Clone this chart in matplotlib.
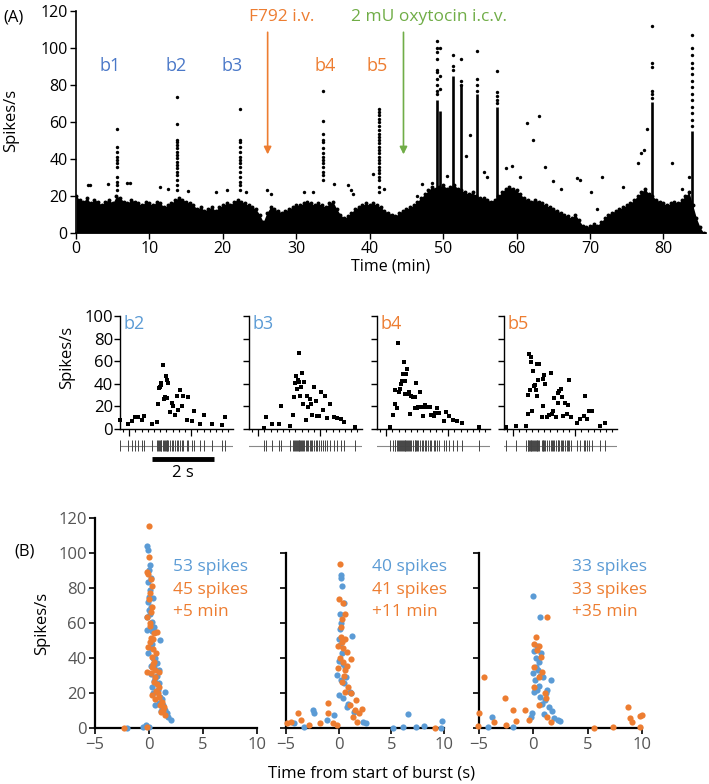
import numpy as np
import matplotlib
matplotlib.use('Agg')
import matplotlib.pyplot as plt

plt.rcParams['font.family'] = ['Open Sans', 'DejaVu Sans']

W, H = 709, 784
BLUE = '#5b9bd5'
DBLUE = '#4a78c8'
ORANGE = '#ed7d31'
GREEN = '#70ad47'
GREY = '#555555'

# ---------------- panel A: firing rate over the whole recording ----------------
# upper edge of the dense cloud of points, one value every 0.5 min
env_rate = [20, 18, 17, 19, 16, 18, 17, 15, 17, 18, 16, 20, 19, 17, 16, 18, 17, 16, 15, 17, 16,
            15, 17, 16, 14, 15, 16, 18, 19, 18, 17, 16, 15, 13, 14, 12, 13, 14, 12, 14, 15,
            16, 15, 17, 18, 17, 16, 15, 14, 13, 10, 6, 11, 14, 13, 12, 11, 12, 13, 14, 15,
            15, 16, 17, 16, 15, 16, 15, 14, 16, 17, 13, 10, 8, 9, 11, 13, 14, 15, 16, 15,
            16, 15, 14, 12, 11, 10, 9, 11, 12, 13, 14, 15, 17, 19, 21, 23, 25, 24, 25, 26,
            24, 25, 26, 24, 23, 22, 21, 22, 20, 19, 19, 18, 17, 18, 20, 22, 24, 25, 24, 23,
            21, 19, 18, 17, 18, 17, 16, 15, 14, 13, 12, 11, 10, 9, 8, 10, 7, 4, 3, 4,
            5, 4, 6, 8, 10, 11, 12, 13, 14, 15, 16, 18, 20, 22, 24, 21, 20, 18, 17, 16,
            15, 16, 17, 16, 18, 20, 22, 15, 8, 3, 0]
env_time = np.arange(len(env_rate)) * 0.5

# isolated points above the cloud
out_time = [1.6, 1.9, 4.4, 6.9, 7.4, 11.4, 12.5, 15.2, 19.0, 20.5, 23.2, 26.0, 26.5, 31.0,
            32.3, 35.1, 37.0, 37.4, 37.7, 40.5, 42.0, 46.5, 47.1, 48.5, 50.5, 53.1, 53.7,
            55.5, 56.0, 58.5, 59.4, 60.5, 61.4, 62.2, 63.0, 63.9, 65.0, 66.0, 68.2, 68.7,
            70.2, 70.9, 71.6, 74.5, 76.5, 76.9, 77.3, 77.7, 81.2, 82.5, 83.5]
out_rate = [26, 25.8, 26.5, 27, 27, 25, 24, 22.5, 22, 23, 22, 23.3, 21, 22,
            22, 26.5, 25.8, 23, 21, 32, 24, 20, 26.5, 27, 31, 41.6, 52.8,
            33, 30, 35, 36.2, 30, 59.5, 50.5, 63, 35.8, 28, 24, 29.6, 28.7,
            22.4, 12.9, 30, 25, 38, 43, 44.8, 56.4, 37.6, 24, 30]

# bursts b1-b5 (before oxytocin): column of points
burst_time = [5.6, 13.7, 22.4, 33.7, 41.3]
burst_rates = [
    [56.4, 46.6, 43.9, 41.2, 39.4, 37.6, 35.8, 30.4, 27.8, 26, 23.3],
    [73.4, 58.8, 50.5, 49.3, 47.5, 45.7, 43.9, 42.1, 40.3, 38.5, 36.7, 34.9, 33.1, 31.3, 28.7, 26, 23],
    [67.2, 50.5, 49.3, 46.6, 43.9, 41.2, 39.4, 37.6, 35.8, 33, 30.4, 27.8, 26, 23],
    [77, 60.5, 53.7, 50.1, 49.3, 45.7, 43, 41.2, 39.4, 37.6, 35.8, 33, 31.3, 28.7],
    [67.2, 65.4, 63.6, 61.8, 60, 57.7, 55.5, 53.7, 52, 50.1, 48.4, 46.6, 44.8, 43, 41.2,
     39.4, 37.6, 35.8, 34, 32.2, 30.4, 28.7, 25, 22.4],
]

# bursts after oxytocin: solid column up to a rate, sparse points above
col_time = [49.2, 49.6, 51.3, 52.5, 54.6, 57.3, 78.5, 83.9]
col_solid = [72, 66, 85, 80, 75, 68, 71, 55]
col_rates = [
    [104, 100, 98, 94, 88, 87, 83, 80, 77, 75],
    [100, 85, 78],
    [96, 90, 88],
    [94, 82, 80],
    [98.5, 83, 80, 77],
    [87.4, 76, 74, 72, 70],
    [112, 92, 89.5, 77, 75, 73],
    [107, 100, 96, 92, 89, 86, 82, 79, 75, 72, 68, 65, 61, 58],
]

burst_lab = ['b1', 'b2', 'b3', 'b4', 'b5']
burst_lab_x = [4.6, 13.7, 21.2, 33.9, 41.0]

# ---------------- middle row: instantaneous rate inside bursts ----------------
b2_t = [0, 0.25, 0.38, 0.48, 0.59, 0.70, 0.78, 1.02, 1.18, 1.24, 1.27, 1.29, 1.32, 1.34,
        1.40, 1.42, 1.45, 1.48, 1.51, 1.53, 1.56, 1.61, 1.69, 1.72, 1.77, 1.83, 1.88, 1.94,
        1.99, 2.04, 2.15, 2.20, 2.31, 2.39, 2.58, 2.71, 2.96, 3.28, 3.39]
b2_r = [8.2, 4.4, 7.4, 10.6, 10.6, 8.2, 11.8, 4.4, 5.9, 22.4, 36.2, 37, 39, 40.6,
        56.8, 26.5, 28.2, 46.5, 27.4, 43.5, 40.6, 14.7, 22.9, 20, 12.6, 28.8, 17, 34.7,
        20, 29.4, 8.2, 28.2, 7.4, 15.6, 4.7, 12.4, 4.7, 3.2, 10.6]
b3_t = [0.48, 0.56, 0.75, 0.97, 1.02, 1.32, 1.42, 1.45, 1.48, 1.53, 1.55, 1.57, 1.61, 1.63,
        1.66, 1.69, 1.72, 1.75, 1.77, 1.83, 1.88, 1.91, 1.96, 2.01, 2.04, 2.10, 2.15, 2.20,
        2.26, 2.32, 2.39, 2.44, 2.53, 2.63, 2.74, 2.85, 2.96, 3.06, 3.44]
b3_r = [0.9, 10.6, 4.4, 4.4, 20, 2.4, 12.6, 28.2, 40.6, 47.1, 35.3, 43.5, 41.2, 67.6,
        28.8, 37.1, 50, 22.4, 41.2, 7.6, 28.8, 19.4, 26.5, 22.4, 12.6, 37.6, 24.4, 11.8,
        11.2, 32.4, 17.1, 28.8, 9.7, 22.4, 10.6, 9.7, 8.8, 5.9, 1.8]
b4_t = [0.43, 0.51, 0.57, 0.59, 0.65, 0.67, 0.70, 0.73, 0.76, 0.81, 0.84, 0.86, 0.89, 0.91,
        0.94, 0.97, 0.99, 1.02, 1.08, 1.11, 1.16, 1.22, 1.24, 1.27, 1.29, 1.34, 1.40, 1.45,
        1.48, 1.54, 1.58, 1.65, 1.70, 1.75, 1.83, 1.88, 1.94, 2.01, 2.15, 2.24, 2.31, 2.44,
        2.58, 2.74, 3.28]
b4_r = [1.5, 12.4, 22.1, 34.4, 18.5, 76.5, 32.4, 35.3, 39.7, 42.6, 49.1, 59.7, 42.6, 30.9,
        49.1, 52.9, 30.9, 32.4, 13.2, 29.4, 27.9, 27.9, 18.5, 40.3, 18.5, 19.1, 32.4, 19.1,
        11.8, 21.2, 19.1, 19.7, 19.1, 12.6, 11.8, 13.8, 18.5, 13.8, 6.8, 14.7, 11.8, 7.9,
        6.8, 5.6, 2.1]
b5_t = [0.06, 0.39, 0.70, 0.76, 0.78, 0.81, 0.84, 0.86, 0.88, 0.91, 0.95, 0.97, 1.00, 1.02,
        1.05, 1.08, 1.11, 1.14, 1.22, 1.25, 1.27, 1.30, 1.34, 1.40, 1.46, 1.51, 1.54, 1.57,
        1.61, 1.68, 1.73, 1.75, 1.78, 1.83, 1.86, 1.89, 1.97, 2.02, 2.08, 2.11, 2.18, 2.37,
        2.47, 2.58, 2.61, 2.69, 2.75, 2.83, 3.10, 3.26]
b5_r = [2.1, 2.6, 2.4, 12.9, 30, 66.2, 34.4, 63.8, 59.7, 15.6, 50.9, 38.2, 39.1, 34.4,
        28.8, 57.4, 43.2, 57.4, 10.9, 20.6, 44.1, 47.9, 39.7, 10.9, 12.4, 50, 13.2, 16.2,
        27.4, 10.9, 22.6, 31.5, 33.2, 35.3, 28.5, 11.8, 22.6, 13.2, 21.2, 43.2, 10.3, 5.3,
        8.8, 11.2, 29.4, 8.8, 15.6, 16.2, 2.6, 5.3]

mini_t = [b2_t, b3_t, b4_t, b5_t]
mini_r = [b2_r, b3_r, b4_r, b5_r]
mini_lab = ['b2', 'b3', 'b4', 'b5']
mini_col = [BLUE, BLUE, ORANGE, ORANGE]

# ---------------- panel B: superimposed bursts ----------------
p1_blue_t = [-2.0, -0.6, -0.3, 0.0, -0.15, -0.05, 0.05, 0.0, 0.15, -0.05, 0.05, 0.0, 0.35, -0.05,
             0.15, 0.0, -0.15, 0.25, -0.15, 0.45, 0.55, 1.05, 0.15, -0.05, 0.6, 0.75, 0.45, 0.9,
             0.15, 0.6, 0.9, 0.25, 1.5, 0.9, 1.2, 0.6, 1.5, 1.7, 1.8, 2.0, 1.2, 1.05, 0.35, 0.3,
             0.1, 0.2, 0.5, 0.8, 1.1, 0.4, 0.7, 1.3, 0.3]
p1_blue_r = [0.4, 0.8, 1.9, 0.6, 103.8, 101.5, 93, 90.3, 85.4, 83.5, 79, 75, 74, 72,
             69, 67.4, 63.6, 60.7, 56, 57.5, 55, 50.3, 45.5, 42.7, 39.8, 37, 35, 33.2,
             31, 28.5, 25.6, 23.7, 20.9, 14.2, 12.3, 13.3, 10.4, 8.5, 6.6, 4.7, 16.5, 18, 20, 55.5,
             65, 35.5, 27, 22, 9.7, 40, 30, 13.5, 48]
p1_orange_t = [0.0, -0.15, -0.05, 0.25, 0.0, 0.3, -0.15, 0.05, 0.15, 0.35, 0.75, -0.05, 0.25,
               0.65, 0.45, -0.15, 0.9, 0.15, 0.45, 0.9, 0.65, 0.9, 0.6, 1.2, 1.4, 1.1, 1.5, -2.3,
               -0.15, 0.2, 0.1, 0.4, 0.3, 0.55, 0.75, 0.3, 1.0, 0.5, 0.05, 0.2, 0.4, 0.8, 1.3,
               0.1, 0.6, 0.0]
p1_orange_r = [97.3, 88.8, 87.7, 81, 73.4, 69.3, 63.6, 58.3, 51.2, 50.7, 55, 46.5, 40.4,
               42.7, 38, 32.3, 32.3, 31.3, 26.6, 23.7, 21.4, 18, 16.5, 15.2, 12.3, 9.5, 7.6, 0,
               0.9, 66, 60, 45, 35, 29, 25, 19, 13, 54.5, 77, 85, 36.5, 20, 10.5,
               49, 33, 115]
p2_blue_t = [0.19, 0.2, 0.3, 0.5, 0.2, 0.1, 1.3, 0.05, 0.1, 0.3, 0.05, 0.4, 0.6, -0.13, 0.7,
             0.2, 0.55, 1.2, 1.1, 0.05, 0.4, -4.2, -3.3, -2.4, -2.3, -1.1, -0.4, 2.3, 2.6, 5.2,
             6.1, 6.6, 7.3, 8.1, 9.8, 9.7, 0.9, 1.5, 0.15, 0.8]
p2_blue_r = [87.3, 85.4, 81, 71.5, 59.8, 56.4, 52.6, 50.7, 47.4, 42.7, 38.5, 36.6, 34.7, 30.4,
             29.4, 27.5, 25.6, 19.9, 20.9, 19, 17.1, 3.2, 0.9, 10.4, 8.9, 4.7, 7.6, 3.8, 3.2, 0,
             1, 8.2, 0.8, 1.3, 4.2, 0, 14, 9, 65, 12]
p2_orange_t = [0.12, 0.06, 0.44, 0.6, 0.28, 0.19, 0.6, 0.28, -0.04, 0.38, 0.82, 1.2, 0.1, 0.44,
               0.76, -0.04, 0.6, 0.28, 0.9, 0.6, 1.2, -4.9, -4.5, -3.9, -3.6, -2.8, -1.8, -1.0,
               -0.5, -0.2, -1.0, 1.1, 1.6, 1.4, 1.55, 1.9, 2.2, 1.7, 9.1, 0.2, 0.5]
p2_orange_r = [93.5, 73.4, 71.5, 65, 62, 57.5, 50.7, 49.3, 46.9, 45.5, 43.6, 39.3, 39.8, 38,
               35.5, 34.2, 33.2, 26.6, 23.7, 20.9, 19.9, 3.2, 3.8, 8.9, 4.7, 1.9, 2.8, 14.6,
               3.2, 1.9, 8.5, 13.3, 16.1, 6.6, 10.4, 8.5, 10.8, 3.8, 0, 52, 30]
p3_blue_t = [0.0, 0.64, 0.7, 0.2, -0.06, 1.6, 0.5, 0.1, 0.6, 1.1, 1.4, -0.1, 1.7, -0.2, 2.3,
             2.5, -3.8, -1.9, 0.25, 0.15, 0.4, 0.9, 0.3, 0.8, 1.2, 0.5, 1.0, -4.2, 0.05, 0.6,
             1.3, 0.35, 1.9]
p3_blue_r = [75.3, 63.6, 43, 35, 31.3, 27.5, 24, 20.9, 18, 16, 12.3, 8.5, 10, 6.6, 4.7,
             4.2, 6.6, 1, 39.8, 27.5, 33, 29, 22, 14, 20, 38, 8, 0.5, 44, 30,
             22, 47, 6]
p3_orange_t = [1.3, -4.5, -2.6, -5.0, -1.9, -0.8, -3.6, -2.5, -1.6, -0.4, -5.1, 0.1, 0.5, 0.3,
               0.7, 0.05, 0.8, 0.55, 0.1, 1.1, 1.2, 0.55, 1.3, 1.6, 5.6, 7.3, 8.7, 8.9, 9.1, 9.8,
               10.0, 9.8, 0.2]
p3_orange_r = [63.2, 29.4, 17, 8.5, 10.4, 10.4, 3.8, 1.9, 4.4, 4.7, 1.3, 48, 47, 44.6,
               40.4, 35, 32.3, 29.4, 23.7, 19.9, 17, 13.3, 6.6, 3.8, 0, 0.6, 12.3, 5.7, 3.8, 1,
               7.6, 7, 52]

b_panels = [(p1_blue_t, p1_blue_r, p1_orange_t, p1_orange_r),
            (p2_blue_t, p2_blue_r, p2_orange_t, p2_orange_r),
            (p3_blue_t, p3_blue_r, p3_orange_t, p3_orange_r)]
b_text = [('53 spikes', '45 spikes', '+5 min'),
          ('40 spikes', '41 spikes', '+11 min'),
          ('33 spikes', '33 spikes', '+35 min')]


def box(left, top, width, height):
    # pixel box (from top-left) -> figure fraction rect
    return [left / W, 1 - (top + height) / H, width / W, height / H]


def ftext(x, y, s, **kw):
    fig.text(x / W, 1 - y / H, s, **kw)


fig = plt.figure(figsize=(W / 100, H / 100), dpi=100)

# ---- top panel ----
ax = fig.add_axes(box(76, 11, 630, 222))
ax.fill_between(env_time, 0, env_rate, color='black', lw=0)
ax.scatter(env_time, env_rate, s=8, color='black', lw=0)
ax.scatter(out_time, out_rate, s=6, color='black', lw=0)
for t, rr in zip(burst_time, burst_rates):
    ax.scatter([t] * len(rr), rr, s=6, color='black', lw=0)
for t, top, rr in zip(col_time, col_solid, col_rates):
    ax.vlines(t, 0, top, color='black', lw=1.9)
    ax.scatter([t] * len(rr), rr, s=6, color='black', lw=0)
ax.set_xlim(0, 85.8)
ax.set_ylim(0, 120)
ax.set_xticks(range(0, 81, 10))
ax.set_yticks(range(0, 121, 20))
for s in ['top', 'right']:
    ax.spines[s].set_visible(False)
for s in ['left', 'bottom']:
    ax.spines[s].set_linewidth(1.2)
ax.tick_params(labelsize=11.5, length=4, width=1, pad=2)
ax.set_xlabel('Time (min)', fontsize=11.5, labelpad=1)
for lab, x, i in zip(burst_lab, burst_lab_x, range(5)):
    ax.text(x, 90, lab, color=DBLUE if i < 3 else ORANGE, fontsize=13,
            ha='center', va='center')
ax.annotate('', xy=(26.1, 41), xytext=(26.1, 110),
            arrowprops=dict(arrowstyle='-|>', color=ORANGE, lw=1.2, mutation_scale=11))
ax.text(28.0, 117, 'F792 i.v.', color=ORANGE, fontsize=12.5, ha='center', va='center')
ax.annotate('', xy=(44.6, 41), xytext=(44.6, 110),
            arrowprops=dict(arrowstyle='-|>', color=GREEN, lw=1.2, mutation_scale=11))
ax.text(48.1, 117, '2 mU oxytocin i.c.v.', color=GREEN, fontsize=12.5, ha='center', va='center')
ftext(13, 17, '(A)', fontsize=12, ha='center', va='center')
ftext(11, 120, 'Spikes/s', fontsize=12, rotation=90, ha='center', va='center')

# ---- middle row ----
mini_left = [120, 249, 377, 504]
for i, (left, tt, rr) in enumerate(zip(mini_left, mini_t, mini_r)):
    a = fig.add_axes(box(left, 316, 113, 113))
    a.plot(tt, rr, 's', color='black', ms=2.2, mew=0, clip_on=False)
    a.set_xlim(0, 3.65)
    a.set_ylim(0, 100)
    for s in ['top', 'right']:
        a.spines[s].set_visible(False)
    a.spines['left'].set_linewidth(1.0)
    a.spines['bottom'].set_linewidth(1.0)
    a.set_yticks(range(0, 101, 20))
    a.set_xticks(np.arange(0.3, 3.65, 2.0))
    a.set_xticks(np.arange(0.1, 3.65, 0.2), minor=True)
    a.tick_params(axis='y', length=4, width=1, labelsize=12, pad=1)
    a.tick_params(axis='x', which='major', length=5, width=0.9, labelbottom=False)
    a.tick_params(axis='x', which='minor', length=2.5, width=0.8)
    if i > 0:
        a.tick_params(axis='y', labelleft=False)
    a.text(0.1, 93, mini_lab[i], color=mini_col[i], fontsize=13, ha='left', va='center')
    # spike raster below
    r = fig.add_axes(box(left, 439, 113, 13))
    r.axhline(0.5, color='#888888', lw=0.8)
    r.vlines(tt, 0.05, 0.95, color='#444444', lw=0.7)
    r.set_xlim(0, 3.65)
    r.set_ylim(0, 1)
    r.axis('off')
    if i == 0:
        sb = fig.add_axes(box(left, 455, 113, 25))
        sb.plot([1.02, 3.03], [1, 1], color='black', lw=3.5, solid_capstyle='butt')
        sb.text(2.02, 0.35, '2 s', fontsize=12, ha='center', va='center')
        sb.set_xlim(0, 3.65)
        sb.set_ylim(0, 1.2)
        sb.axis('off')
ftext(67, 357, 'Spikes/s', fontsize=12, rotation=90, ha='center', va='center')

# ---- panel B ----
b_left = [95, 286, 479]
b_width = [162, 158, 163]
b_text_x = [173, 372, 572]
for i, (left, wd, (bt, br, ot, orr), txt, tx) in enumerate(
        zip(b_left, b_width, b_panels, b_text, b_text_x)):
    a = fig.add_axes(box(left, 517.6, wd, 210.7))
    a.scatter(bt, br, s=20, color=BLUE, lw=0, clip_on=False, zorder=3)
    a.scatter(ot, orr, s=20, color=ORANGE, lw=0, clip_on=False, zorder=3)
    a.set_xlim(-5, 10)
    a.set_ylim(0, 120)
    for s in ['top', 'right']:
        a.spines[s].set_visible(False)
    a.spines['left'].set_linewidth(1.6)
    a.spines['bottom'].set_linewidth(1.6)
    a.set_xticks([-5, 0, 5, 10])
    a.set_xticklabels(['\u22125', '0', '5', '10'])
    if i == 0:
        a.set_yticks(range(0, 121, 20))
    else:
        a.set_yticks(range(0, 101, 20))
        a.spines['left'].set_bounds(0, 100)
        a.tick_params(axis='y', labelleft=False)
    a.tick_params(length=4, width=1.2, labelsize=12, labelcolor=GREY, pad=2)
    ftext(tx, 567, txt[0], color=BLUE, fontsize=12.5, ha='left', va='center')
    ftext(tx, 590, txt[1], color=ORANGE, fontsize=12.5, ha='left', va='center')
    ftext(tx, 612, txt[2], color=ORANGE, fontsize=12.5, ha='left', va='center')
ftext(25, 552, '(B)', fontsize=12, ha='center', va='center')
ftext(42, 623, 'Spikes/s', fontsize=12, rotation=90, ha='center', va='center')
ftext(371, 773, 'Time from start of burst (s)', fontsize=12, ha='center', va='center')

fig.savefig('out.png', dpi=100)
